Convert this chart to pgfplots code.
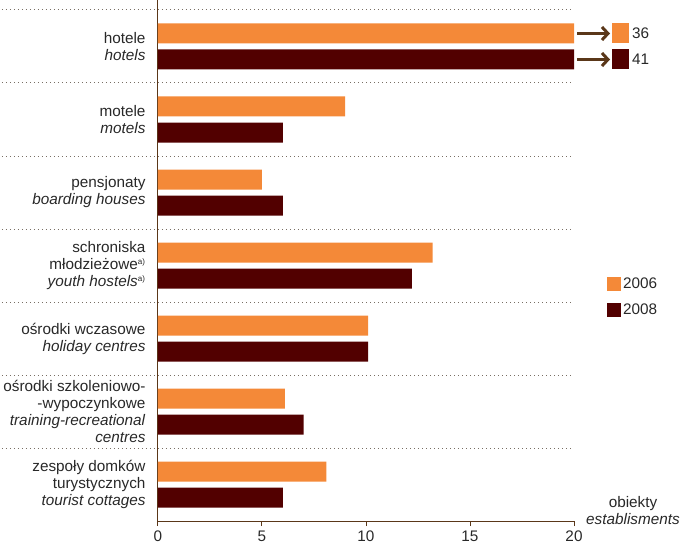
\documentclass[border=0pt]{standalone}
\usepackage{pgfplots}
\pgfplotsset{compat=1.18}
\usepackage{fontspec}
\setmainfont{Liberation Sans}
\usetikzlibrary{arrows.meta}
\definecolor{orc}{RGB}{244,137,56}
\definecolor{dkc}{RGB}{82,0,0}
\definecolor{axc}{RGB}{90,55,25}
\definecolor{txc}{RGB}{40,40,40}
\definecolor{dotc}{RGB}{120,110,100}
\begin{document}
\begin{tikzpicture}[font=\fontsize{15.3}{17}\selectfont]
\begin{axis}[
 scale only axis, width=416pt, height=511pt,
 xmin=0, xmax=20, ymin=-0.5, ymax=6.5,
 xbar, bar width=20pt,
 axis x line=bottom, axis y line=left,
 axis line style={axc, line width=1pt, -},
 xtick={0,5,10,15,20},
 tick align=outside,
 x tick style={axc, line width=1pt},
 major tick length=5pt,
 ytick={0,1,2,3,4,5,6},
 y tick style={draw=none},
 yticklabels={
  {zespoły domków\\turystycznych\\\textit{tourist cottages}},
  {ośrodki szkoleniowo-\\-wypoczynkowe\\\textit{training-recreational}\\\textit{centres}},
  {ośrodki wczasowe\\\textit{holiday centres}},
  {schroniska\\młodzieżowe\textsuperscript{\fontsize{8}{8}\selectfont a)}\\\textit{youth hostels}\textsuperscript{\fontsize{8}{8}\selectfont a)}},
  {pensjonaty\\\textit{boarding houses}},
  {motele\\\textit{motels}},
  {hotele\\\textit{hotels}}},
 yticklabel style={align=right, text=txc, font=\fontsize{15.3}{17}\selectfont, xshift=-4pt},
 xticklabel style={text=txc, font=\fontsize{15.3}{17}\selectfont, yshift=-1pt},
 /pgf/number format/assume math mode=true,
 clip mode=individual,
 legend style={at={(1,0.4379)}, anchor=west, xshift=33pt, draw=none, fill=none, inner sep=0pt, row sep=10pt, text=txc, font=\fontsize{15.3}{17}\selectfont},
 legend cell align=left,
 legend image code/.code={\fill[#1] (0pt,-7pt) rectangle (14pt,7pt);},
]
\addplot[fill=orc, draw=none, bar shift=13pt] coordinates {(8.1,0) (6.1,1) (10.1,2) (13.2,3) (5,4) (9,5) (36,6)};
\addplot[fill=dkc, draw=none, bar shift=-13pt] coordinates {(6,0) (7,1) (10.1,2) (12.2,3) (6,4) (6,5) (41,6)};
\legend{2006,2008}
\pgfplotsinvokeforeach{0.5,1.5,2.5,3.5,4.5,5.5,6.5}{
 \draw[dotc, line width=1pt, dash pattern=on 1pt off 3pt] ([xshift=-156pt]axis cs:0,#1) -- (axis cs:20,#1);
}
\draw[axc, line width=1pt] (axis cs:0,6.5) -- ([yshift=10pt]axis cs:0,6.5);
% overflow markers for hotels
\draw[axc, line width=3pt, -{Straight Barb[length=6pt,width=13pt]}] ([xshift=3pt,yshift=13pt]axis cs:20,6) -- ([xshift=36pt,yshift=13pt]axis cs:20,6);
\draw[axc, line width=3pt, -{Straight Barb[length=6pt,width=13pt]}] ([xshift=3pt,yshift=-13pt]axis cs:20,6) -- ([xshift=36pt,yshift=-13pt]axis cs:20,6);
\fill[orc] ([xshift=38pt,yshift=3pt]axis cs:20,6) rectangle ([xshift=55pt,yshift=23pt]axis cs:20,6);
\fill[dkc] ([xshift=38pt,yshift=-23pt]axis cs:20,6) rectangle ([xshift=55pt,yshift=-3pt]axis cs:20,6);
\node[anchor=west, text=txc, inner sep=0pt] at ([xshift=58pt,yshift=13pt]axis cs:20,6) {36};
\node[anchor=west, text=txc, inner sep=0pt] at ([xshift=58pt,yshift=-13pt]axis cs:20,6) {41};
\node[align=center, text=txc, inner sep=0pt] at ([xshift=59pt,yshift=10pt]axis cs:20,-0.5) {obiekty\\\textit{establisments}};
\end{axis}
\pgfresetboundingbox
\path[use as bounding box] ([shift={(-158pt,-23pt)}]current axis.south west) rectangle ([shift={(524pt,521pt)}]current axis.south west);
\end{tikzpicture}
\end{document}
